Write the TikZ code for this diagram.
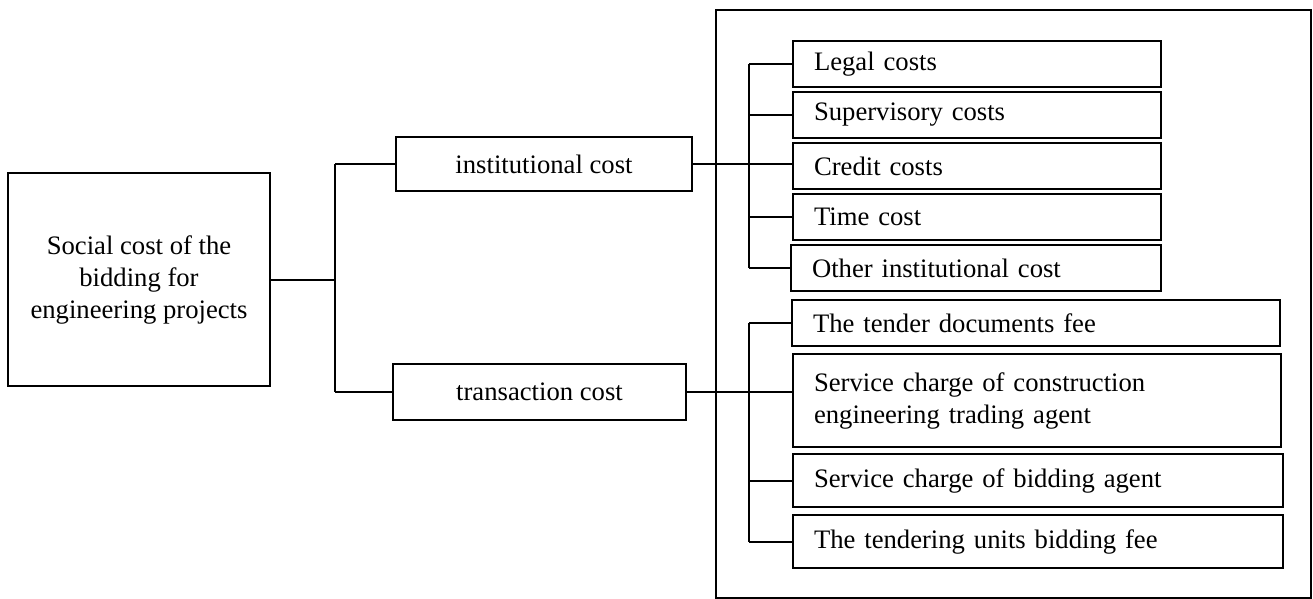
\documentclass[tikz,border=0pt]{standalone}
\usepackage{fontspec}
\setmainfont{Liberation Serif}
\begin{document}
\begin{tikzpicture}[x=0.75pt,y=-0.75pt,
  every node/.style={font=\fontsize{20}{24}\selectfont},
  cbox/.style 2 args={draw, line width=2pt, inner sep=0pt, align=center,
    minimum width=#1*0.75pt, minimum height=#2*0.75pt},
  lbox/.style 2 args={draw, line width=2pt, inner ysep=0pt, inner xsep=15.75pt,
    align=left, text width=(#1-42)*0.75pt, minimum height=#2*0.75pt},
  conn/.style={line width=1.5pt}]
\useasboundingbox (0,0) rectangle (1313,599);
% outer frame
\draw[line width=1pt] (716,10) rectangle (1311,598);
\draw[line width=2pt] (716,598) -- (716,10) -- (1311,10);
% left boxes
\node[cbox={262}{213}] (social) at (139,279.5) {Social cost of the\\bidding for\\engineering projects};
\node[cbox={296}{54}] (inst) at (544,164) {institutional cost};
\node[cbox={293}{56}] (trans) at (539.5,392) {transaction cost};
% institutional items
\node[lbox={368}{46}] (legal) at (977,64) {Legal costs};
\node[lbox={368}{46}] (sup) at (977,115) {Supervisory costs};
\node[lbox={368}{46}] (credit) at (977,166) {Credit costs};
\node[lbox={368}{46}] (time) at (977,217) {Time cost};
\node[lbox={370}{46}] (other) at (976,268) {Other institutional cost};
% transaction items
\node[lbox={488}{46}] (tender) at (1036,323) {The tender documents fee};
\node[lbox={488}{93}] (svc) at (1037,400.5) {Service charge of construction\\engineering trading agent};
\node[lbox={490}{53}] (bid) at (1038,480.5) {Service charge of bidding agent};
\node[lbox={490}{53}] (tendu) at (1038,541.5) {The tendering units bidding fee};
% bracket from social
\coordinate (bt) at (335,164);
\coordinate (bb) at (335,392);
\draw[conn] (bt) -- (bb);
\draw[conn] (social.east) -- (social.east -| bt);
\draw[conn] (bt) -- (inst.west);
\draw[conn] (bb) -- (trans.west);
% institutional bracket
\coordinate (r1t) at (749,64);
\coordinate (r1b) at (749,268);
\draw[conn] (r1t) -- (r1b);
\draw[conn] (inst.east) -- (inst.east -| credit.west);
\foreach \n in {legal,sup,time,other}{
  \draw[conn] (\n.west -| r1t) -- (\n.west);
}
% transaction bracket
\coordinate (r2t) at (749,323);
\coordinate (r2b) at (749,541.5);
\draw[conn] (r2t) -- (r2b);
\draw[conn] (trans.east) -- (trans.east -| svc.west);
\foreach \n in {tender,bid,tendu}{
  \draw[conn] (\n.west -| r2t) -- (\n.west);
}
\end{tikzpicture}
\end{document}
